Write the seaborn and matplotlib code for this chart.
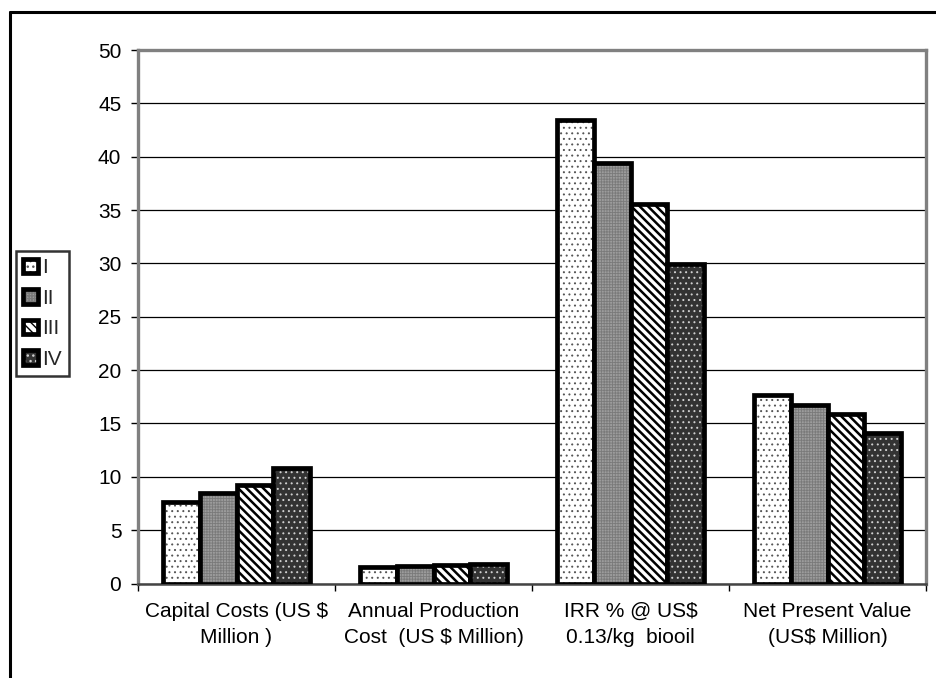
import matplotlib
matplotlib.use("Agg")
import matplotlib.pyplot as plt
import matplotlib.colors as mcolors
from matplotlib.lines import Line2D
import numpy as np
import pandas as pd
import seaborn as sns

# Data
categories = [
    "Capital Costs (US $\nMillion )",
    "Annual Production\nCost  (US $ Million)",
    "IRR % @ US$\n0.13/kg  biooil",
    "Net Present Value\n(US$ Million)",
]
scenarios = ["I", "II", "III", "IV"]
values_I = [7.6, 1.5, 43.4, 17.7]
values_II = [8.5, 1.6, 39.4, 16.7]
values_III = [9.2, 1.7, 35.6, 15.9]
values_IV = [10.8, 1.8, 29.9, 14.1]
y_ticks = list(range(0, 51, 5))

# Bar styles (fill, hatch, hatch colour, hatch line width)
fills = {"I": "#ffffff", "II": "#9c9c9c", "III": "#ffffff", "IV": "#333333"}
hatches = {"I": "...", "II": "++++++", "III": "\\\\\\\\", "IV": "..."}
hatch_colors = {"I": "#555555", "II": "#7a7a7a", "III": "#000000", "IV": "#d0d0d0"}
hatch_lw = {"I": 0.7, "II": 0.6, "III": 1.8, "IV": 0.7}

rows = []
for name, vals in zip(scenarios, [values_I, values_II, values_III, values_IV]):
    for cat, v in zip(categories, vals):
        rows.append({"Metric": cat, "Value": v, "Scenario": name})
df = pd.DataFrame(rows)

sns.set_style("white")
plt.rcParams["font.family"] = ["Liberation Sans", "DejaVu Sans"]
plt.rcParams["hatch.linewidth"] = 1.0
FS = 15

fig = plt.figure(figsize=(9.36, 6.78), dpi=100)
ax = fig.add_axes([138 / 936, 1 - 583.5 / 678, (926 - 138) / 936, (583.5 - 50) / 678])

sns.barplot(
    data=df, x="Metric", y="Value", hue="Scenario",
    order=categories, hue_order=scenarios, palette=fills,
    width=0.75, saturation=1, edgecolor="black", linewidth=3.4,
    errorbar=None, legend=False, ax=ax, zorder=3,
)

# Patterns on the bars
for name, container in zip(scenarios, ax.containers):
    for bar in container:
        bar.set_hatch(hatches[name])
        bar._hatch_color = mcolors.to_rgba(hatch_colors[name])
        if hasattr(bar, "set_hatch_linewidth"):
            bar.set_hatch_linewidth(hatch_lw[name])

# Axes styling
ax.set_xlim(-0.5, 3.5)
ax.set_ylim(0, 50)
ax.set_yticks(y_ticks)
ax.yaxis.grid(True, color="black", linewidth=0.9)
ax.set_axisbelow(True)
ax.set_xlabel("")
ax.set_ylabel("")

for side in ["left", "top", "right"]:
    ax.spines[side].set_color("#808080")
    ax.spines[side].set_linewidth(2.4)
    ax.spines[side].set_visible(True)
ax.spines["bottom"].set_color("#444444")
ax.spines["bottom"].set_linewidth(1.8)
ax.spines["bottom"].set_visible(True)

ax.tick_params(axis="y", which="major", direction="out", length=5, width=1,
               color="black", left=True, pad=7, labelsize=FS, labelcolor="black")
ax.set_xticks(np.arange(len(categories)))
ax.set_xticklabels(categories, fontsize=FS, linespacing=1.5)
ax.set_xticks(np.arange(-0.5, len(categories)), minor=True)
ax.tick_params(axis="x", which="major", length=0, pad=13, labelcolor="black")
ax.tick_params(axis="x", which="minor", direction="out", length=5, width=1,
               color="black", bottom=True)

# Legend on the left
handles = [ax.containers[i][0] for i in range(len(scenarios))]
leg = fig.legend(
    handles, scenarios, loc="upper left",
    bbox_to_anchor=(16 / 936, 1 - 251 / 678), bbox_transform=fig.transFigure,
    fontsize=FS, frameon=True, fancybox=False, edgecolor="black",
    handlelength=0.7, handleheight=0.7, handletextpad=0.2,
    labelspacing=0.55, borderpad=0.35, borderaxespad=0,
)
leg.get_frame().set_linewidth(1.8)

# Outer chart border (left and top edges visible)
fig.add_artist(Line2D([9.5 / 936, 9.5 / 936], [0, 1 - 12 / 678],
                      transform=fig.transFigure, color="black", linewidth=2.2))
fig.add_artist(Line2D([9.5 / 936, 1], [1 - 12 / 678, 1 - 12 / 678],
                      transform=fig.transFigure, color="black", linewidth=2.2))

fig.savefig("out.png", dpi=100)
